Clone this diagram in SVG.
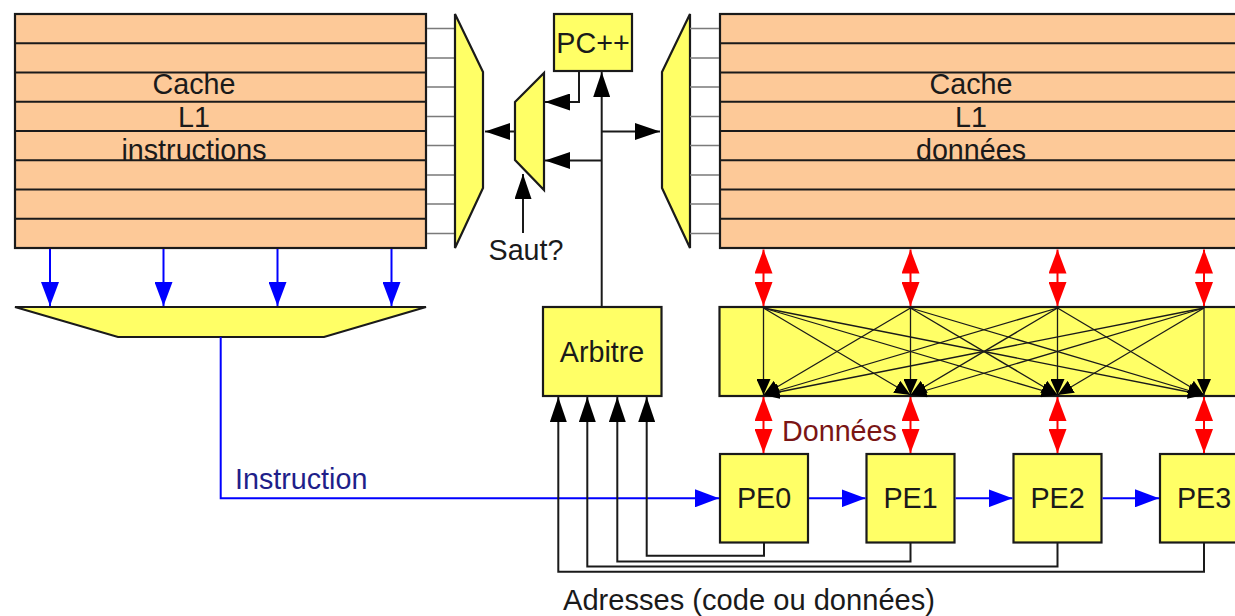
<svg xmlns="http://www.w3.org/2000/svg" width="1235" height="616" viewBox="0 0 1235 616">
<defs>
<style>
.cache{fill:#fdc998;stroke:#1a1a1a;stroke-width:2.2}
.row{stroke:#1a1a1a;stroke-width:2.2}
.stub{stroke:#7a7a7a;stroke-width:1.5}
.yel{fill:#ffff66;stroke:#1a1a1a;stroke-width:2.2}
.t{font-family:"Liberation Sans",Arial,sans-serif;font-size:28.7px;fill:#1a1a1a;text-anchor:middle}
.blk{stroke:#1a1a1a;stroke-width:2;fill:none}
.blue{stroke:#0000ff;stroke-width:2;fill:none}
.red{stroke:#ff0000;stroke-width:2;fill:none}
.x{stroke:#1a1a1a;stroke-width:1.3;fill:none}
</style>
<marker id="ab" markerUnits="userSpaceOnUse" markerWidth="25" markerHeight="17" refX="25" refY="8.5" orient="auto" viewBox="0 0 25 17"><path d="M0,0L25,8.5L0,17z" fill="#000"/></marker>
<marker id="au" markerUnits="userSpaceOnUse" markerWidth="24" markerHeight="18" refX="24" refY="9" orient="auto" viewBox="0 0 24 18"><path d="M0,0L24,9L0,18z" fill="#0000ff"/></marker>
<marker id="ar" markerUnits="userSpaceOnUse" markerWidth="24" markerHeight="18" refX="24" refY="9" orient="auto-start-reverse" viewBox="0 0 24 18"><path d="M0,0L24,9L0,18z" fill="#ff0000"/></marker>
<marker id="as" markerUnits="userSpaceOnUse" markerWidth="16" markerHeight="14" refX="16" refY="7" orient="auto" viewBox="0 0 16 14"><path d="M0,0L16,7L0,14z" fill="#000"/></marker>
</defs>
<rect width="1235" height="616" fill="#ffffff"/>

<g id="cache-instructions">
<rect class="cache" x="15" y="14" width="411" height="234"/>
<path class="row" d="M15,43.25H426M15,72.5H426M15,101.75H426M15,131H426M15,160.25H426M15,189.5H426M15,218.75H426"/>
<path class="stub" d="M427,28.6H455M427,57.9H455M427,87.1H455M427,116.4H455M427,145.6H455M427,174.9H455M427,204.1H455M427,233.4H455"/>
<text class="t" x="194" y="94">Cache</text>
<text class="t" x="194" y="127">L1</text>
<text class="t" x="194" y="160">instructions</text>
</g>

<g id="mux-instructions">
<polygon class="yel" points="455,14 483,72 483,188 455,248"/>
</g>

<g id="pc">
<rect class="yel" x="554" y="14" width="78" height="57"/>
<text class="t" x="593" y="53">PC++</text>
</g>

<g id="mux-saut">
<polygon class="yel" points="515,102 544,73 544,190 515,160"/>
</g>
<text class="t" x="526" y="260">Saut?</text>

<g id="mux-donnees">
<polygon class="yel" points="690,14 662,72 662,188 690,248"/>
</g>

<g id="cache-donnees">
<rect class="cache" x="720" y="14" width="540" height="234"/>
<path class="row" d="M720,43.25H1240M720,72.5H1240M720,101.75H1240M720,131H1240M720,160.25H1240M720,189.5H1240M720,218.75H1240"/>
<path class="stub" d="M690,28.6H719M690,57.9H719M690,87.1H719M690,116.4H719M690,145.6H719M690,174.9H719M690,204.1H719M690,233.4H719"/>
<text class="t" x="971" y="94">Cache</text>
<text class="t" x="971" y="127">L1</text>
<text class="t" x="971" y="160">données</text>
</g>

<g id="decodeur">
<polygon class="yel" points="15,307 426,307 324,337 118,337"/>
</g>

<g id="arbitre">
<rect class="yel" x="543" y="307" width="118.5" height="89"/>
<text class="t" x="602" y="362">Arbitre</text>
</g>

<g id="crossbar">
<rect class="yel" x="719.5" y="307" width="540" height="89"/>
</g>

<g id="pe0"><rect class="yel" x="720" y="454" width="88" height="88.5"/><text class="t" x="764" y="508">PE0</text></g>
<g id="pe1"><rect class="yel" x="866.5" y="454" width="88" height="88.5"/><text class="t" x="910.5" y="508">PE1</text></g>
<g id="pe2"><rect class="yel" x="1013.5" y="454" width="88" height="88.5"/><text class="t" x="1057.5" y="508">PE2</text></g>
<g id="pe3"><rect class="yel" x="1160" y="454" width="88" height="88.5"/><text class="t" x="1204" y="508">PE3</text></g>

<g id="connectors">
<path class="blue" marker-end="url(#au)" d="M50,249V306"/>
<path class="blue" marker-end="url(#au)" d="M163.5,249V306"/>
<path class="blue" marker-end="url(#au)" d="M277.5,249V306"/>
<path class="blue" marker-end="url(#au)" d="M391.5,249V306"/>
<path class="blue" marker-end="url(#au)" d="M220.7,337V498.3H719"/>
<path class="blue" marker-end="url(#au)" d="M809,498.3H865.5"/>
<path class="blue" marker-end="url(#au)" d="M955.5,498.3H1012.5"/>
<path class="blue" marker-end="url(#au)" d="M1102.5,498.3H1159"/>
<path class="blk" marker-end="url(#ab)" d="M579,71V102H545"/>
<path class="blk" marker-end="url(#ab)" d="M515,131.5H485"/>
<path class="blk" marker-end="url(#ab)" d="M601.7,307V72"/>
<path class="blk" marker-end="url(#ab)" d="M601.7,131.5H660"/>
<path class="blk" marker-end="url(#ab)" d="M601.7,160.5H545"/>
<path class="blk" marker-end="url(#ab)" d="M523,233V174"/>
<path class="blk" marker-end="url(#ab)" d="M764,543V555.7H646.7V397"/>
<path class="blk" marker-end="url(#ab)" d="M910.5,543V561.5H617.3V397"/>
<path class="blk" marker-end="url(#ab)" d="M1057.5,543V566.5H587.3V397"/>
<path class="blk" marker-end="url(#ab)" d="M1204,543V571.7H558.3V397"/>
<path class="red" marker-start="url(#ar)" marker-end="url(#ar)" d="M763.5,249.5V306"/>
<path class="red" marker-start="url(#ar)" marker-end="url(#ar)" d="M910.5,249.5V306"/>
<path class="red" marker-start="url(#ar)" marker-end="url(#ar)" d="M1057.5,249.5V306"/>
<path class="red" marker-start="url(#ar)" marker-end="url(#ar)" d="M1204,249.5V306"/>
<path class="red" marker-start="url(#ar)" marker-end="url(#ar)" d="M763.5,397V453"/>
<path class="red" marker-start="url(#ar)" marker-end="url(#ar)" d="M910.5,397V453"/>
<path class="red" marker-start="url(#ar)" marker-end="url(#ar)" d="M1057.5,397V453"/>
<path class="red" marker-start="url(#ar)" marker-end="url(#ar)" d="M1204,397V453"/>
<g marker-end="url(#as)">
<path class="x" d="M763.5,308L763.5,395"/>
<path class="x" d="M763.5,308L910.5,395"/>
<path class="x" d="M763.5,308L1057.5,395"/>
<path class="x" d="M763.5,308L1204,395"/>
<path class="x" d="M910.5,308L763.5,395"/>
<path class="x" d="M910.5,308L910.5,395"/>
<path class="x" d="M910.5,308L1057.5,395"/>
<path class="x" d="M910.5,308L1204,395"/>
<path class="x" d="M1057.5,308L763.5,395"/>
<path class="x" d="M1057.5,308L910.5,395"/>
<path class="x" d="M1057.5,308L1057.5,395"/>
<path class="x" d="M1057.5,308L1204,395"/>
<path class="x" d="M1204,308L763.5,395"/>
<path class="x" d="M1204,308L910.5,395"/>
<path class="x" d="M1204,308L1057.5,395"/>
<path class="x" d="M1204,308L1204,395"/>
</g>
</g>

<text class="t" x="235" y="488.5" style="text-anchor:start;fill:#1f1f8a">Instruction</text>
<text class="t" x="782" y="441" style="text-anchor:start;fill:#7a1515">Données</text>
<text class="t" x="563" y="610" style="text-anchor:start;font-size:29.1px">Adresses (code ou données)</text>
</svg>
